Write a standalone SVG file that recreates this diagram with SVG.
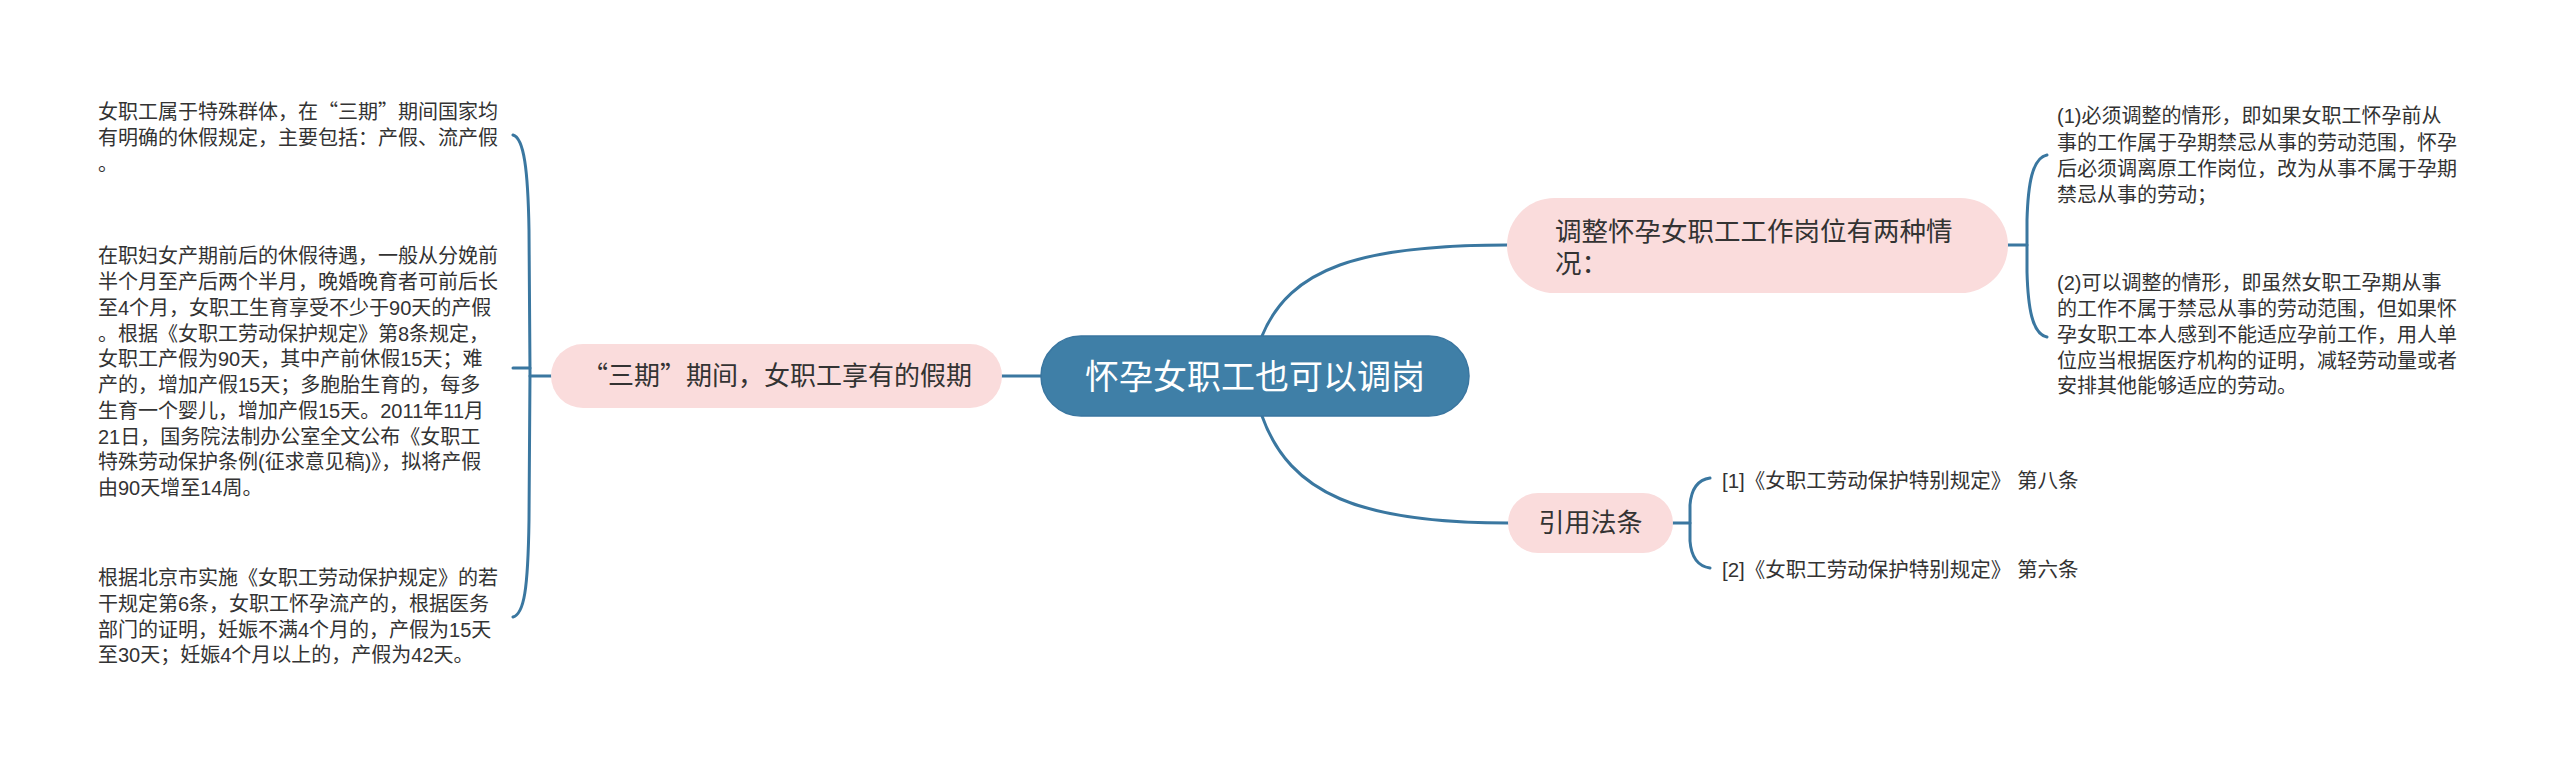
<svg xmlns="http://www.w3.org/2000/svg" width="2560" height="765" viewBox="0 0 2560 765">
<style>
  .t { font-family: "Liberation Sans", "Noto Sans CJK SC", sans-serif; fill: #333333; }
  .q { font-family: "Noto Sans CJK SC", "Noto Sans CJK JP", sans-serif; }
  .body { font-size: 20px; }
  .ref { font-size: 20.5px; }
  .sub { fill: #fadcdc; }
  .conn { fill: none; stroke: #3a77a0; stroke-width: 3; stroke-linecap: round; }
</style>
<rect width="2560" height="765" fill="#ffffff"/>
<g id="connectors">
  <path class="conn" d="M1262,336 C1290,268 1360,245 1507,245"/>
  <path class="conn" d="M1262,416 C1290,494 1360,523 1508,523"/>
  <path class="conn" d="M1041,376 L1002,376"/>
  <path class="conn" d="M513,135 C524,138 528,170 529,230 L530,372 L529,520 C528,590 524,614 513,617"/>
  <path class="conn" d="M513,368 L530,368"/>
  <path class="conn" d="M530,376 L551,376"/>
  <path class="conn" d="M2008,245 L2027,245"/>
  <path class="conn" d="M2047,155 C2032,158 2028,185 2027,220 L2027,272 C2028,307 2032,334 2047,337"/>
  <path class="conn" d="M1673,523 L1690,523"/>
  <path class="conn" d="M1710,478 C1696,480 1691,492 1690,505 L1690,541 C1691,554 1696,566 1710,568"/>
</g>
<g id="root">
  <rect x="1041" y="336" width="428" height="80" rx="40" fill="#3f7fa7" stroke="#3a76a0" stroke-width="1.5"/>
  <text class="t" x="1255" y="389" text-anchor="middle" font-size="34" style="fill:#ffffff">怀孕女职工也可以调岗</text>
</g>
<g id="node-sanqi">
  <rect class="sub" x="551" y="344" width="451" height="64" rx="32"/>
  <text class="t" x="777" y="385" text-anchor="middle" font-size="26"><tspan class="q">“</tspan>三期<tspan class="q">”</tspan>期间，女职工享有的假期</text>
</g>
<g id="node-sanqi-1">
  <text class="t body" x="98">
    <tspan x="98" y="119">女职工属于特殊群体，在<tspan class="q">“</tspan>三期<tspan class="q">”</tspan>期间国家均</tspan>
    <tspan x="98" y="145">有明确的休假规定，主要包括：产假、流产假</tspan>
    <tspan x="98" y="171">。</tspan>
  </text>
</g>
<g id="node-sanqi-2">
  <text class="t body" x="98">
    <tspan x="98" y="263">在职妇女产期前后的休假待遇，一般从分娩前</tspan>
    <tspan x="98" y="289">半个月至产后两个半月，晚婚晚育者可前后长</tspan>
    <tspan x="98" y="315">至4个月，女职工生育享受不少于90天的产假</tspan>
    <tspan x="98" y="341">。根据《女职工劳动保护规定》第8条规定，</tspan>
    <tspan x="98" y="366">女职工产假为90天，其中产前休假15天；难</tspan>
    <tspan x="98" y="392">产的，增加产假15天；多胞胎生育的，每多</tspan>
    <tspan x="98" y="418">生育一个婴儿，增加产假15天。2011年11月</tspan>
    <tspan x="98" y="444">21日，国务院法制办公室全文公布《女职工</tspan>
    <tspan x="98" y="469">特殊劳动保护条例(征求意见稿)》，拟将产假</tspan>
    <tspan x="98" y="495">由90天增至14周。</tspan>
  </text>
</g>
<g id="node-sanqi-3">
  <text class="t body" x="98">
    <tspan x="98" y="585">根据北京市实施《女职工劳动保护规定》的若</tspan>
    <tspan x="98" y="611">干规定第6条，女职工怀孕流产的，根据医务</tspan>
    <tspan x="98" y="637">部门的证明，妊娠不满4个月的，产假为15天</tspan>
    <tspan x="98" y="662">至30天；妊娠4个月以上的，产假为42天。</tspan>
  </text>
</g>
<g id="node-tiaozheng">
  <rect class="sub" x="1507" y="198" width="501" height="95" rx="47.5"/>
  <text class="t" font-size="26.5">
    <tspan x="1555" y="241">调整怀孕女职工工作岗位有两种情</tspan>
    <tspan x="1555" y="273">况：</tspan>
  </text>
</g>
<g id="node-tiaozheng-1">
  <text class="t body">
    <tspan x="2057" y="123">(1)必须调整的情形，即如果女职工怀孕前从</tspan>
    <tspan x="2057" y="150">事的工作属于孕期禁忌从事的劳动范围，怀孕</tspan>
    <tspan x="2057" y="176">后必须调离原工作岗位，改为从事不属于孕期</tspan>
    <tspan x="2057" y="202">禁忌从事的劳动；</tspan>
  </text>
</g>
<g id="node-tiaozheng-2">
  <text class="t body">
    <tspan x="2057" y="290">(2)可以调整的情形，即虽然女职工孕期从事</tspan>
    <tspan x="2057" y="316">的工作不属于禁忌从事的劳动范围，但如果怀</tspan>
    <tspan x="2057" y="342">孕女职工本人感到不能适应孕前工作，用人单</tspan>
    <tspan x="2057" y="368">位应当根据医疗机构的证明，减轻劳动量或者</tspan>
    <tspan x="2057" y="393">安排其他能够适应的劳动。</tspan>
  </text>
</g>
<g id="node-yinyong">
  <rect class="sub" x="1508" y="493" width="165" height="60" rx="30"/>
  <text class="t" x="1590.5" y="532" text-anchor="middle" font-size="26">引用法条</text>
</g>
<g id="node-yinyong-1">
  <text class="t ref" x="1722" y="488">[1]《女职工劳动保护特别规定》 第八条</text>
</g>
<g id="node-yinyong-2">
  <text class="t ref" x="1722" y="577">[2]《女职工劳动保护特别规定》 第六条</text>
</g>
</svg>
